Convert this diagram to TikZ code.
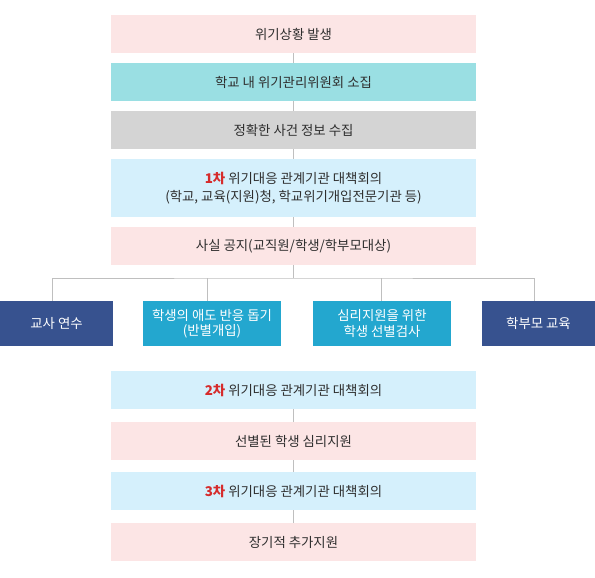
\documentclass[tikz,border=0pt]{standalone}
\usepackage{fontspec}
\setmainfont{Noto Sans CJK KR}
\usepackage{xcolor}
\usepackage{tikz}
\usetikzlibrary{positioning,calc}

\definecolor{pinkbg}{HTML}{FCE5E5}
\definecolor{tealbg}{HTML}{9ADFE3}
\definecolor{greybg}{HTML}{D4D4D4}
\definecolor{skybg}{HTML}{D5F0FC}
\definecolor{navybg}{HTML}{37528F}
\definecolor{ceruleanbg}{HTML}{23A7CF}
\definecolor{linkgrey}{HTML}{BFBFBF}
\definecolor{txtgrey}{HTML}{2E2E2E}
\definecolor{stepred}{HTML}{D62B2B}

\newcommand{\stepno}[1]{{\color{stepred}\bfseries #1}}

\begin{document}
\begin{tikzpicture}[x=1pt, y=-1pt,
    stage/.style={fill=#1, minimum width=365pt, minimum height=38pt,
      inner sep=0pt, align=center, text=txtgrey, font=\fontsize{13.4}{17.8}\selectfont},
    action/.style={fill=#1, minimum height=45pt, inner sep=0pt,
      align=center, text=white, font=\fontsize{13.4}{15.2}\selectfont},
    link/.style={draw=linkgrey, line width=1pt}]
  \useasboundingbox (0,0) rectangle (595,578);

  % main steps
  \node[stage=pinkbg] (occur) at (293.5,34) {위기상황 발생};
  \node[stage=tealbg] (committee) at (293.5,82) {학교 내 위기관리위원회 소집};
  \node[stage=greybg] (collect) at (293.5,130) {정확한 사건 정보 수집};
  \node[stage=skybg, minimum height=58pt] (meet1) at (293.5,188)
    {\stepno{1차} 위기대응 관계기관 대책회의\\(학교, 교육(지원)청, 학교위기개입전문기관 등)};
  \node[stage=pinkbg] (notice) at (293.5,246) {사실 공지(교직원/학생/학부모대상)};

  % parallel actions
  \node[action=navybg, minimum width=113pt] (teacher) at (56.5,323.5) {교사 연수};
  \node[action=ceruleanbg, minimum width=138pt] (grief) at (212,323.5)
    {학생의 애도 반응 돕기\\(반별개입)};
  \node[action=ceruleanbg, minimum width=138pt] (screen) at (382,323.5)
    {심리지원을 위한\\학생 선별검사};
  \node[action=navybg, minimum width=113pt] (parent) at (538.5,323.5) {학부모 교육};

  % follow-up
  \node[stage=skybg] (meet2) at (293.5,390) {\stepno{2차} 위기대응 관계기관 대책회의};
  \node[stage=pinkbg] (support) at (293.5,441) {선별된 학생 심리지원};
  \node[stage=skybg] (meet3) at (293.5,491) {\stepno{3차} 위기대응 관계기관 대책회의};
  \node[stage=pinkbg] (longterm) at (293.5,542) {장기적 추가지원};

  \coordinate (split) at (293.5,278);

  \draw[link] (occur) -- (committee);
  \draw[link] (committee) -- (collect);
  \draw[link] (collect) -- (meet1);
  \draw[link] (meet1) -- (notice);
  \draw[link] (notice) -- (split);
  \draw[link] ([xshift=-4pt]teacher.north) |- (split) -| ([xshift=-4pt]parent.north);
  \draw[link] ([xshift=-4.5pt]grief.north) -- ([xshift=-4.5pt]grief.north |- split);
  \draw[link] ([xshift=-1pt]screen.north) -- ([xshift=-1pt]screen.north |- split);
  \draw[link] (meet2) -- (support);
  \draw[link] (support) -- (meet3);
  \draw[link] (meet3) -- (longterm);
\end{tikzpicture}
\end{document}
